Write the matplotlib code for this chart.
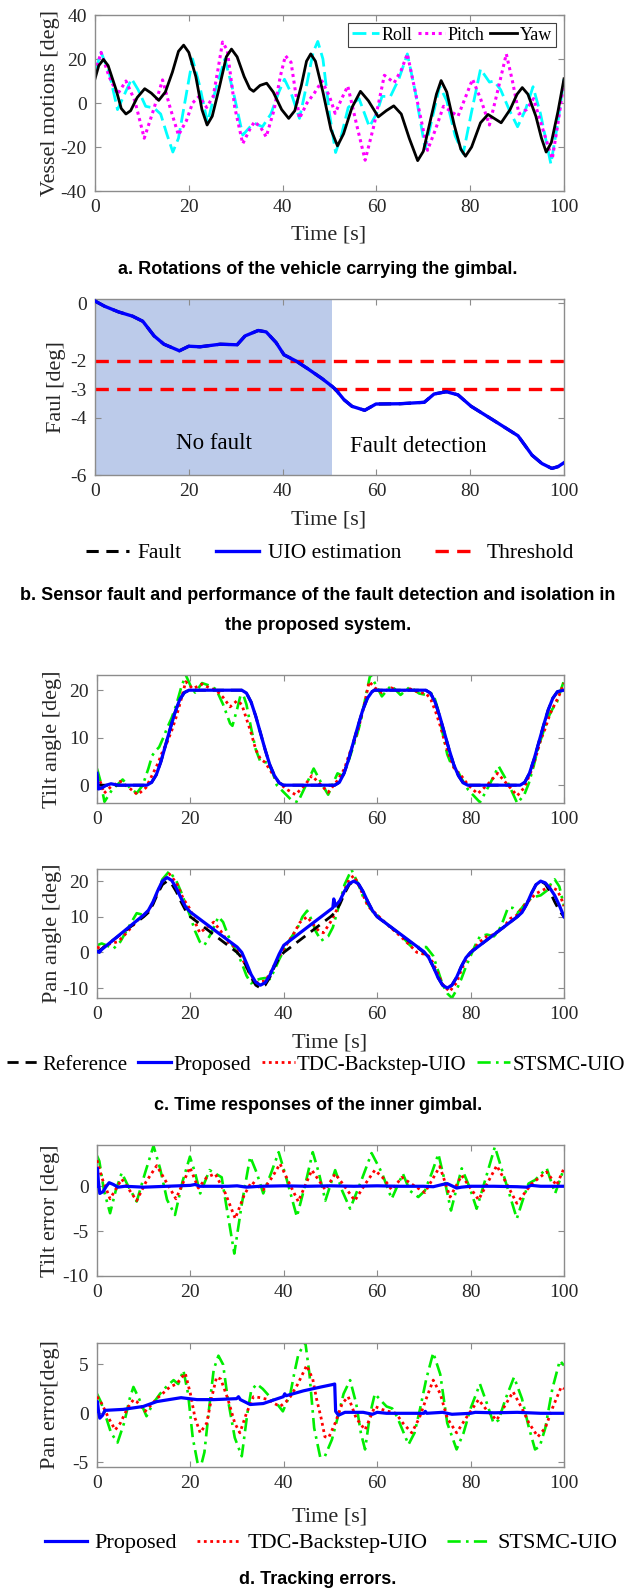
import matplotlib.pyplot as plt
import numpy as np

plt.rcParams['font.family'] = ['Liberation Serif', 'DejaVu Serif']
plt.rcParams['axes.unicode_minus'] = False

W, H = 627, 1590

# ---- data (t [s], value) ----
# a. vessel motions
yaw = [(0, 11), (0.8, 17), (1.8, 19.8), (2.8, 17), (4.5, 6), (5.6, -2.5), (6.6, -5), (7.6, -3.5), (9, 2.5),
       (10.6, 6.5), (12, 4.5), (13.6, 1.2), (15, 5), (16.5, 14), (17.8, 23.5), (18.9, 26.3), (20, 23),
       (21.5, 12), (22.8, -3), (23.9, -10), (25, -6), (26.5, 7), (28, 21), (29.1, 24.5), (30.3, 21),
       (31.8, 12), (33, 6.5), (33.8, 5.3), (35.2, 8), (36.6, 9), (38, 5), (39.8, -3), (41.3, -7),
       (42.6, -3.5), (44, 8), (45.1, 19), (46, 22.3), (47, 19), (48.6, 5), (50.3, -12), (51.7, -19.5),
       (53, -14), (54.8, -2), (56.6, 5.3), (58.3, 1), (60.4, -6.3), (62.1, -3.5), (63.7, -1.3), (65.3, -5),
       (67, -16), (68.8, -26.2), (70, -22), (71.5, -8), (72.8, 4), (73.8, 10.2), (75, 5), (76.6, -10),
       (78, -21), (79, -24.2), (80.3, -20), (82.2, -9), (83.8, -5.2), (86.6, -9), (88.5, -3), (90, 4),
       (91.1, 7), (92.3, 4), (94, -6), (95.2, -16), (96.2, -22.3), (97.3, -18), (98.7, -4), (100, 11)]
roll = [(0, 14), (1.3, 23), (3, 14), (4.8, -3), (6.3, 4), (7.8, 11), (9.2, 6), (10.8, -1.5), (12.6, -2.3),
        (14, -5), (15.3, -14), (16.6, -22.3), (17.8, -16), (19.3, 2), (20.8, 20), (22.3, 8), (24, -9),
        (25.7, 6), (27.7, 20), (29.5, 5), (31.5, -14.6), (33, -11), (34, -9.2), (35.7, -10.8), (37.5, -5),
        (39.2, 5), (40.4, 10.8), (41.8, 4.6), (43.6, -7), (45.3, 10), (46.5, 23), (47.5, 28), (48.6, 20),
        (50, -5), (51.3, -22.5), (52.5, -15), (54, -2), (56.3, 2), (58.5, -10.8), (60, -5), (61.2, 3),
        (63, 3), (64.8, 11), (66.6, 22.3), (68.3, 5), (70.4, -20.8), (72, -6), (73.5, 7.7), (75, 1),
        (76.8, -15), (78.5, -23), (80.2, -5), (82.2, 15.4), (84.1, 9.5), (85.1, 10), (86.5, 6), (88.3, -3),
        (90.1, -10.8), (91.8, -3), (93.4, 7.4), (95, -5), (97.2, -27.7), (98.6, -10), (100, 10.8)]
pitch = [(0, 14), (1.3, 23), (3, 12), (4.8, 4), (6.6, 10), (8.5, 1), (10.5, -16), (12.5, -3), (14.4, 10.5),
         (16, -2), (17.8, -14.6), (19.5, -8), (20.8, 0), (22.2, 3), (23.8, -2), (25.2, 3), (26.2, 15),
         (27.2, 27.7), (28.2, 24), (29.8, -2), (31.5, -18.5), (33, -12), (34, -8.5), (35.3, -11),
         (36.5, -15.4), (38.2, -3), (39.5, 12), (40.6, 21.5), (41.8, 18.5), (43.6, -7), (45.2, 0),
         (46.8, 4.6), (48.4, 10), (50, 3), (51.2, -4.7), (52.6, 2), (53.9, 7.7), (55.8, -10), (57.6, -26),
         (59.5, -10), (61.7, 12.6), (63.8, 9.2), (65.3, 15), (66.6, 22.3), (68.5, 3), (70.9, -21.5),
         (72.6, -12), (74.3, -1.5), (77.4, -6), (80.5, 10.8), (82.2, 2), (84.1, -10), (85.8, 5), (87.7, 22.3),
         (89, 10), (90.4, -5), (92, -3), (93.5, 2), (95.5, -12), (97.5, -25.4), (98.8, -8), (100, 10)]

# b. sensor fault
fault = [(0, 0.08), (2, -0.1), (5, -0.3), (8, -0.45), (10.2, -0.63), (12.6, -1.14), (14.7, -1.43), (18, -1.66),
         (20, -1.5), (22.4, -1.52), (26.7, -1.43), (30.3, -1.45), (32, -1.14), (34.8, -0.95), (36.5, -1.0),
         (38.6, -1.37), (40.3, -1.8), (42.9, -2.02), (45.4, -2.29), (48.4, -2.63), (50.6, -2.91), (51.2, -3.0),
         (51.7, -3.09), (53.1, -3.37), (54.8, -3.6), (57.5, -3.74), (59.9, -3.52), (65, -3.51), (70.2, -3.46),
         (72.3, -3.17), (74.9, -3.09), (77.4, -3.2), (80.2, -3.6), (84.7, -4.06), (90.2, -4.63), (93.2, -5.31),
         (95.3, -5.6), (97.4, -5.77), (98.7, -5.71), (100, -5.57)]
uio_est = list(fault)
thresholds = [-2, -3]
no_fault_end = 50.6

# c. inner gimbal time responses
tilt_ref = [(0, 0), (10.7, 0), (11.7, 0.6), (12.7, 2.2), (13.7, 5), (14.7, 8.5), (15.7, 12), (16.7, 15.3),
            (17.7, 18), (18.7, 19.5), (19.7, 20), (31, 20), (32, 19.4), (33, 17.5), (34, 14.5), (35, 11),
            (36, 7.5), (37, 4.3), (38, 2), (39, 0.5), (39.9, 0), (50.9, 0), (51.9, 0.6), (52.9, 2.5),
            (53.9, 5.5), (54.9, 9), (55.9, 12.5), (56.9, 15.8), (57.9, 18.3), (58.9, 19.7), (59.4, 20),
            (70.4, 20), (71.4, 19.4), (72.4, 17.5), (73.4, 14.5), (74.4, 11), (75.4, 7.5), (76.4, 4.3),
            (77.4, 2), (78.4, 0.5), (79.4, 0), (90.6, 0), (91.6, 0.6), (92.6, 2.5), (93.6, 5.5), (94.6, 9),
            (95.6, 12.5), (96.6, 15.8), (97.6, 18.3), (98.6, 19.7), (100, 20)]
tilt_prop = [(0, 2.5), (0.3, -0.8), (1, -0.6), (2, 0), (3, 0.3), (4.5, 0)] + tilt_ref[1:]
tilt_tdc = [(0, 2), (0.8, 0.5), (1.5, -1.7), (3, -0.3), (5, 0.8), (6.8, -0.5), (8.7, -2), (10.5, -0.5), (12, 2.5),
            (13, 4.5), (14, 7), (15, 9), (16, 11.5), (17, 14.5), (18, 18), (19, 21.8), (20.5, 20.3),
            (22.5, 21.3), (24, 20.5), (25.5, 20), (27, 18.5), (28.5, 16.5), (30, 17.8), (31, 17), (32, 14),
            (33, 11), (34, 7.5), (35, 5.5), (36, 4.8), (37.5, 2.5), (39, 0.5), (40.5, -0.8), (42.5, -2),
            (44.5, 0), (46, 2), (47.5, 0.5), (49.5, -1.5), (51.5, 1), (53, 3.5), (54, 6.5), (55, 9), (56, 12),
            (57, 16), (58.3, 21.8), (59.5, 20.5), (61, 19.5), (63, 20.5), (65, 19.7), (67, 20.3), (69, 19.5),
            (70.5, 19.3), (71.5, 18), (72.5, 15.5), (73.5, 12.5), (74.5, 9), (75.5, 6), (76.5, 3.5), (78, 2),
            (79.5, 0), (81.5, -1.8), (83.5, 0), (85.8, 2.5), (88, 0), (90, -2.2), (91.5, -0.5), (93, 3),
            (94, 6), (95, 9.5), (96, 12), (97, 15), (98, 17), (99, 19), (100, 21.5)]
tilt_stsmc = [(0, 3.5), (0.7, 1), (1.6, -3.5), (3.2, -1), (5.5, 1.2), (7, -0.5), (8.5, -1.7), (9.8, 0),
              (11, 3.5), (11.8, 6.2), (12.5, 7.2), (13.3, 8), (14.2, 10), (15, 12), (16, 14.2), (17, 17),
              (18, 20.5), (19, 23.2), (20, 21), (21, 19.5), (22.5, 21.5), (24, 21), (25.5, 20.2), (27, 17),
              (28.5, 13), (29, 12.5), (30, 16), (31, 20), (32, 17), (33, 12), (34, 7.5), (35, 4.9), (36.5, 4.8),
              (37.5, 3), (38.5, 0), (40, -1.5), (41.5, -3), (43, -3.6), (44.5, -0.5), (46.4, 3.5), (48, 0.5),
              (49.5, -2), (51.5, 2.5), (52.5, 2), (53.5, 4), (54.5, 7), (55.5, 10), (56.5, 13.5), (57.5, 18.5),
              (58.5, 23.2), (59.5, 21.5), (61, 18.7), (63, 21), (65, 19), (67, 20.7), (69, 19.3), (70.5, 19),
              (72, 19.3), (73, 16), (74, 11), (75, 6.5), (76, 4), (77, 3.5), (78, 1.5), (79.5, -1), (82, -3.6),
              (84, 0), (86, 4), (88, 0.5), (90, -3.8), (91.5, -2), (92.5, 0.5), (93.5, 4), (94.5, 8),
              (95.5, 11), (96.5, 14), (97.5, 16), (98.5, 17.5), (99.3, 20), (100, 22)]

pan_ref = [(0, 0), (10, 10), (11, 11.2), (12, 13.5), (13, 16.5), (14, 19), (15, 20), (16, 19.2), (17, 17),
           (18, 14.2), (19, 11.7), (20, 10), (30, 0), (31, -1.5), (32, -4), (33, -7), (34, -9.2), (35, -10),
           (36, -9.2), (37, -7), (38, -4), (39, -1.5), (40, 0), (50, 10), (51, 11.2), (52, 13.5), (53, 16.5),
           (54, 19), (55, 20), (56, 19.2), (57, 17), (58, 14.2), (59, 11.7), (60, 10), (70, 0), (71, -1.5),
           (72, -4), (73, -7), (74, -9.2), (75, -10), (76, -9.2), (77, -7), (78, -4), (79, -1.5), (80, 0),
           (90, 10), (91, 11.2), (92, 13.5), (93, 16.5), (94, 19), (95, 20), (96, 19.2), (97, 17), (98, 14.2),
           (99, 11.7), (100, 10)]
pan_prop = [(0, 0.3), (0.5, 0), (1, 0.8), (10, 10.5), (11, 11.8), (12, 14.2), (13, 17.3), (14, 20), (15, 21),
            (16, 20.2), (17, 18), (18, 15.2), (19, 12.7), (20, 11.3), (30, 1.5), (31, 0), (32, -3), (33, -6.2),
            (34, -8.4), (35, -9.2), (36, -8.5), (37, -6.5), (38, -3.5), (39, -0.5), (40, 2), (50.5, 12.5),
            (50.7, 15), (51, 13), (52, 14.5), (53, 17.2), (54, 19.3), (55, 20), (56, 19.2), (57, 17),
            (58, 14.2), (59, 11.7), (60, 10), (70, 0.2), (71, -1.4), (72, -4), (73, -7), (74, -9.2), (75, -10),
            (76, -9.2), (77, -7), (78, -4), (79, -1.5), (80, 0), (90, 10), (91, 11.2), (92, 13.5), (93, 16.5),
            (94, 19), (95, 20), (96, 19.5), (97, 18), (98, 16), (99, 13.2), (100, 10)]
pan_tdc = [(0, 1.5), (1, 1), (2, 2), (3, 2.5), (4.5, 3), (6, 5), (8, 8), (9, 9.5), (10, 10.5), (11, 11.5),
           (12, 14), (13, 17), (14, 20), (15.5, 22), (17, 19.5), (18.5, 15), (20, 12), (21, 8.5), (22, 5.5),
           (23.5, 7), (25, 8.5), (26.5, 6), (28, 3), (30, 1), (31, -1.5), (32.5, -5.5), (34, -8.5), (36, -8),
           (37, -6), (38, -3.5), (39, -1), (40, 1), (42, 5), (43.5, 8.5), (45, 10), (46.2, 8), (47.5, 6),
           (48.5, 5.5), (50, 8.5), (51, 11), (52, 14), (53, 17.5), (54, 20.5), (55, 21.5), (56, 19), (57, 16),
           (58, 13), (60, 10.5), (62, 8), (65, 4.5), (67, 2), (68.5, 0), (70, -0.5), (71, -1), (72, -3),
           (73, -6), (74, -9), (75.5, -11), (77, -8.5), (78, -5), (79, -2), (80, 0), (82, 3), (83.5, 4.5),
           (85, 5), (87, 7), (88.5, 9.5), (90, 10.5), (91, 12.5), (92.5, 14.5), (94, 16.5), (95.5, 17.5),
           (97, 18.5), (98.5, 17.5), (99.3, 15.5), (100, 13)]
pan_stsmc = [(0, 2), (1, 2.5), (2, 2), (3.5, 1), (5, 3), (6.5, 6.5), (8.5, 11), (10, 10.5), (11, 11.5), (12, 14),
             (13, 17), (14, 20.5), (15.5, 22.8), (17, 20), (18, 17), (19, 13.5), (20, 10), (21, 6), (22, 3),
             (23, 2), (24.5, 5.5), (26, 10), (27, 8.5), (28, 5), (29, 2), (30, 0), (31, -3), (32, -6.5),
             (33, -8.7), (34, -7.8), (35, -7.4), (36, -7.2), (37, -7.5), (38, -5), (39, -2), (40, 0.5), (41, 3),
             (43, 7), (44, 10), (45, 11.7), (46, 9), (46.8, 6), (48, 3.3), (49.5, 4.5), (50.5, 7), (52, 14),
             (53, 19), (54.5, 23.2), (56, 19), (57, 15.5), (58, 13.5), (59, 11.5), (60, 10.5), (62, 8), (65, 5),
             (67, 2), (68, 1.1), (69, 1.5), (70.5, 1.5), (72, -1), (73, -5), (74, -9), (75, -11.5), (76, -12.8),
             (77, -10.5), (78, -7.5), (79, -4), (80, -1), (81, 2), (82, 4.5), (83.5, 5), (85, 4.5), (86, 6),
             (87, 9), (88, 12.5), (89, 12.5), (90, 11), (91, 12.5), (92, 14.3), (93.5, 15.5), (95, 16),
             (96.5, 17.5), (97.5, 20), (98, 20.5), (99, 18.5), (100, 13)]

# d. tracking errors
tilt_err_prop = [(0, 0), (0.1, 2), (0.3, 0.5), (0.6, -0.8), (1.3, -0.6), (2, 0), (2.6, 0.4), (3.5, 0.2),
                 (4.5, -0.1), (6, 0), (10, -0.1), (15, 0), (20, 0.1), (21, 0.2), (22, 0), (25, 0), (28, 0),
                 (30, 0.05), (32, -0.1), (35, 0), (40, 0.05), (45, 0), (50, 0.05), (55, 0), (60, 0.05), (65, 0),
                 (70, 0), (72, -0.05), (74, 0.2), (75, 0.3), (76, 0.05), (77, -0.2), (78, -0.1), (80, 0), (85, 0),
                 (90, -0.05), (92, -0.1), (93, 0.1), (95, 0), (100, 0)]
tilt_err_tdc = [(0, 2.9), (1, 1), (2.8, -1.4), (5.3, 0.8), (8.5, -1.6), (10.5, 0.5), (12.8, 2.3), (14.8, 0.5),
                (16.9, -1.4), (19.9, 2.1), (21.7, -0.2), (23.5, 1), (25.3, 1.4), (27.5, -0.8), (29.6, -3.6),
                (31.5, -1), (33.1, 0.5), (35.6, -0.4), (37.5, 1), (39.2, 2.5), (41.2, 0.3), (43.1, -1.7), (46, 1.8),
                (48.9, -0.4), (51, 1.4), (53, 0), (55.2, -1.6), (57.5, 0.3), (59.5, 1.8), (61.5, 0.8), (63.1, -0.4),
                (65.3, 1), (67.5, 0.2), (70.2, -0.7), (73.4, 2.2), (75.6, -1.2), (78.1, 1.2), (81.7, -1.5),
                (85.6, 2.3), (87.8, 0.2), (89.9, -1.9), (91.5, -0.8), (93.1, 0.3), (96.3, 1.6), (98.4, 0.1),
                (100, 2)]
tilt_err_stsmc = [(0, 3.4), (0.5, 2.8), (1.5, -0.5), (2.8, -3), (4, -0.5), (5.3, 1.5), (6.5, 0.2), (8.5, -1.7),
                  (10.3, 1.5), (12.1, 4.5), (13.5, 2), (15, -1.5), (16.7, -3.2), (18.3, 0.5), (19.9, 3.3),
                  (21, 1.5), (22.1, -0.8), (24.1, 1.8), (26.7, 1), (27.8, -2.5), (29.4, -7.5), (31, -2),
                  (32.8, 3.3), (34.2, 1.5), (35.6, -0.8), (37.3, 1.5), (38.9, 3.8), (40.5, 1), (42.8, -3.4),
                  (44.5, 0), (46.2, 3.8), (47.5, 1.5), (48.9, -1.6), (51, 1.8), (52.5, -0.5), (54.2, -2.5),
                  (56.5, 0.5), (58.8, 3.7), (61, 1.5), (63.1, -1.4), (65.5, 1.4), (67, -0.5), (68.8, -1.2),
                  (70.2, -0.5), (71.7, 1.5), (73.1, 3.6), (74.5, 0.5), (75.8, -2.7), (78.1, 2), (79.7, 0),
                  (81.3, -2.5), (83.3, 1), (85.2, 4.4), (87.5, 0.5), (89.9, -3.6), (91.2, -1.5), (92.4, 0.3),
                  (93.8, 0.7), (96.3, 2), (98.1, -0.8), (100, 2)]

pan_err_prop = [(0, 0.2), (0.1, 1.2), (0.3, 0.3), (0.6, -0.5), (1.2, -0.2), (1.7, 0.3), (5.6, 0.4), (9.9, 0.7),
                (12.8, 1.2), (16.7, 1.5), (18, 1.6), (21.4, 1.4), (25, 1.4), (29.9, 1.5), (30.3, 1.7),
                (30.7, 1.4), (32.8, 0.9), (35.6, 1.0), (39.9, 1.7), (40.2, 2), (40.5, 1.8), (44.2, 2.3),
                (48, 2.7), (50.5, 2.95), (50.9, 3), (51.1, 0.2), (51.7, -0.2), (53.1, 0.1), (55, 0.1), (57, 0.1),
                (59, -0.1), (60, 0.1), (62, 0), (65, 0), (70, 0), (70.3, 0.2), (70.6, 0), (74, 0.1), (76, -0.1),
                (80, 0), (81, 0.1), (85, 0.05), (90, 0.1), (95, 0), (100, 0)]
pan_err_tdc = [(0, 1.7), (1, 1), (2.5, -0.5), (3.9, -1.7), (5, -1), (6.5, 0.5), (7.8, 1.4), (8.5, 1.2),
               (10.3, 0.2), (11.5, 0.8), (12.8, 1.5), (14, 2), (15.6, 2.7), (17, 3), (18.9, 4.1), (20, 2),
               (21, -0.5), (22.1, -2), (23.5, -1), (24.5, 1.5), (25.6, 3.7), (26.5, 3.5), (28, 1.5), (29.5, -1),
               (30.6, -2), (32, 0), (33.5, 1.7), (35, 1.6), (36.7, 1.4), (38, 1), (39.2, 0.7), (40.5, 1.2),
               (41.4, 1.7), (43, 3), (44.9, 4.9), (46.2, 3.5), (47, 1.5), (48, -0.5), (48.8, -2.4), (49.6, -2.5),
               (51, -1), (52.5, 1), (53.8, 1.7), (55.5, -0.5), (57.4, -1.7), (59.5, 0.7), (61, 0.4), (62.4, 0.2),
               (64, 0), (65.5, -1), (67.4, -2), (69, -0.5), (70.5, 1.5), (72, 3.4), (73.5, 2), (75, -0.5),
               (77, -2), (79, -0.5), (81.7, 1.4), (83.5, 0.3), (85.6, -0.7), (87, 0.5), (89.1, 2.2), (91, 0.5),
               (92.5, -1), (94.4, -2.4), (96, -1.5), (97.5, 0.5), (99.4, 2.7), (100, 2.5)]
pan_err_stsmc = [(0, 2), (0.8, 1.2), (2, -0.5), (3, -2), (4.4, -3), (5.8, -1), (7, 1.5), (7.8, 2.7), (9, 1.5),
                 (10.6, -0.3), (12, 1), (13.5, 2), (15, 2.8), (16.4, 3.4), (17.4, 3), (18.5, 4.4), (19.5, 2),
                 (20.5, -2.5), (21.5, -5), (22.1, -5.7), (23, -4), (24, 0.5), (25, 4.5), (26, 5.9), (27, 5),
                 (28, 1.5), (29.5, -2.5), (31, -4.4), (32.2, 0), (33, 2.3), (34.2, 3), (35.5, 2.5), (37, 1.7),
                 (38.5, 1), (39.8, 0.2), (41.4, 2), (42.2, 4), (43.1, 6), (44.6, 7.3), (45.5, 4), (46.5, -1.5),
                 (47.8, -4.5), (48.8, -4.4), (50.3, -2.7), (51.5, -0.5), (52.8, 2), (54.2, 3.4), (55.5, 1),
                 (56.5, -2), (57.4, -3.7), (58.5, 0), (59.5, 2), (61, 1.2), (62, 0.7), (63.2, 0.5), (64.2, -0.3),
                 (65.5, -1.8), (66.7, -3.2), (68, -2), (69.2, 0.5), (70.5, 3.5), (72, 6.2), (73.5, 4), (75, -1),
                 (77, -3.7), (78.5, -2), (80, 0.5), (82, 3), (83.5, 1), (84.9, -1), (86, -0.7), (87.5, 1.5),
                 (89.3, 3.7), (91, 1.5), (92.5, -1.5), (93.8, -3.7), (94.8, -3.4), (96, -1.5), (97.5, 2.5),
                 (99.1, 5.4), (100, 4.9)]

xticks = [0, 20, 40, 60, 80, 100]

# ---- styles ----
BLUE, RED, GREEN = '#0000ff', '#ff0000', '#00ee00'
st_ref = dict(color='k', lw=2.0, ls=(0, (4, 2.5)))
st_prop = dict(color=BLUE, lw=2.3)
st_tdc = dict(color=RED, lw=2.0, ls=(0, (1, 1.3)))
st_stsmc = dict(color=GREEN, lw=1.9, ls=(0, (5, 2, 1, 2)))


def xy(pairs):
    a = np.array(pairs, dtype=float)
    return a[:, 0], a[:, 1]


fig = plt.figure(figsize=(W / 100, H / 100), dpi=100)


def add_ax(left, top, right, bottom):
    return fig.add_axes([left / W, 1 - bottom / H, (right - left) / W, (bottom - top) / H])


def style(ax, ylim, yticks):
    ax.set_xlim(0, 100)
    ax.set_ylim(*ylim)
    ax.set_xticks(xticks)
    ax.set_yticks(yticks)
    ax.tick_params(direction='in', top=True, right=True, length=4, width=0.8, color='#8c8c8c',
                   labelsize=14, labelcolor='#262626', pad=6)
    for s in ax.spines.values():
        s.set_color('#8c8c8c')
        s.set_linewidth(1.0)


def ftext(x, y, s, **kw):
    fig.text(x / W, 1 - y / H, s, ha='center', va='center', **kw)


def ylab(x, top, bottom, s):
    ftext(x, (top + bottom) / 2, s, rotation=90, fontsize=16, color='#262626')


def caption(y, s):
    ftext(318, y, s, fontsize=13, fontweight='bold', family=['Liberation Sans', 'DejaVu Sans'])


# a. vessel motions
ax = add_ax(95, 15, 564, 191)
style(ax, (-40, 40), [-40, -20, 0, 20, 40])
ax.plot(*xy(roll), color='cyan', lw=2.0, ls=(0, (5, 2)), label='Roll')
ax.plot(*xy(pitch), color='#ff00ff', lw=2.2, ls=(0, (1, 1.2)), label='Pitch')
ax.plot(*xy(yaw), color='k', lw=2.0, label='Yaw')
leg = ax.legend(loc='upper right', ncol=3, fontsize=13, frameon=True, fancybox=False, edgecolor='#404040',
                framealpha=1, handlelength=1.5, handletextpad=0.15, columnspacing=0.3, borderpad=0.2,
                borderaxespad=0.45)
leg.get_frame().set_linewidth(0.8)
ylab(51, 15, 191, 'Vessel motions [deg]')
ftext(329, 235, 'Time [s]', fontsize=16, color='#262626')
caption(270, 'a. Rotations of the vehicle carrying the gimbal.')

# b. fault detection
ax = add_ax(95, 299, 564, 475)
style(ax, (-6, 0.15), [-6, -4, -3, -2, 0])
ax.axvspan(0, no_fault_end, color='#bccbea', lw=0, zorder=0)
ax.plot(*xy(fault), color='k', lw=2.2, ls=(0, (4, 2.5)), label='Fault', zorder=3)
ax.plot(*xy(uio_est), color=BLUE, lw=2.4, label='UIO estimation', zorder=4)
for i, th in enumerate(thresholds):
    ax.axhline(th, color=RED, lw=2.4, ls=(0, (4, 2.5)), zorder=2, label='Threshold' if i == 0 else None)
ax.text(25.4, -4.9, 'No fault', fontsize=16.5, ha='center', va='center')
ax.text(68.9, -5.0, 'Fault detection', fontsize=16.5, ha='center', va='center')
h, l = ax.get_legend_handles_labels()
fig.legend(h, l, loc='center', bbox_to_anchor=(330 / W, 1 - 553 / H), ncol=3, fontsize=15.5, frameon=False,
           handlelength=2.0, handletextpad=0.4, columnspacing=1.6)
ylab(57, 299, 475, 'Faul [deg]')
ftext(329, 520, 'Time [s]', fontsize=16, color='#262626')
caption(595, 'b. Sensor fault and performance of the fault detection and isolation in')
caption(625, 'the proposed system.')

# c. tilt / pan responses
ax = add_ax(97, 675, 564, 803)
style(ax, (-3.75, 23.2), [0, 10, 20])
ax.plot(*xy(tilt_stsmc), **st_stsmc, zorder=2)
ax.plot(*xy(tilt_tdc), **st_tdc, zorder=3)
ax.plot(*xy(tilt_ref), **st_ref, zorder=4)
ax.plot(*xy(tilt_prop), **st_prop, zorder=5)
ylab(53, 675, 803, 'Tilt angle [deg]')

ax = add_ax(97, 869, 564, 998)
style(ax, (-12.8, 23.4), [-10, 0, 10, 20])
ax.plot(*xy(pan_stsmc), **st_stsmc, zorder=2, label='STSMC-UIO')
ax.plot(*xy(pan_tdc), **st_tdc, zorder=3, label='TDC-Backstep-UIO')
ax.plot(*xy(pan_ref), **st_ref, zorder=4, label='Reference')
ax.plot(*xy(pan_prop), **st_prop, zorder=5, label='Proposed')
h, l = ax.get_legend_handles_labels()
order = [2, 3, 1, 0]
fig.legend([h[i] for i in order], [l[i] for i in order], loc='center', bbox_to_anchor=(316 / W, 1 - 1065 / H),
           ncol=4, fontsize=15, frameon=False, handlelength=1.6, handletextpad=0.1, columnspacing=0.5)
ylab(52, 869, 998, 'Pan angle [deg]')
ftext(330, 1043, 'Time [s]', fontsize=16, color='#262626')
caption(1105, 'c. Time responses of the inner gimbal.')

# d. tracking errors
ax = add_ax(97, 1145, 564, 1276)
style(ax, (-10, 4.6), [-10, -5, 0])
ax.plot(*xy(tilt_err_stsmc), **st_stsmc, zorder=2)
ax.plot(*xy(tilt_err_tdc), **st_tdc, zorder=3)
ax.plot(*xy(tilt_err_prop), **st_prop, zorder=5)
ylab(50, 1145, 1276, 'Tilt error [deg]')

ax = add_ax(97, 1343, 564, 1467)
style(ax, (-5.5, 7.2), [-5, 0, 5])
ax.plot(*xy(pan_err_stsmc), **st_stsmc, zorder=2, label='STSMC-UIO')
ax.plot(*xy(pan_err_tdc), **st_tdc, zorder=3, label='TDC-Backstep-UIO')
ax.plot(*xy(pan_err_prop), **st_prop, zorder=5, label='Proposed')
h, l = ax.get_legend_handles_labels()
order = [2, 1, 0]
fig.legend([h[i] for i in order], [l[i] for i in order], loc='center', bbox_to_anchor=(331 / W, 1 - 1543 / H),
           ncol=3, fontsize=16, frameon=False, handlelength=1.9, handletextpad=0.35, columnspacing=0.9)
ylab(50, 1343, 1467, 'Pan error[deg]')
ftext(330, 1517, 'Time [s]', fontsize=16, color='#262626')
caption(1580, 'd. Tracking errors.')

fig.savefig('out.png', dpi=100)
